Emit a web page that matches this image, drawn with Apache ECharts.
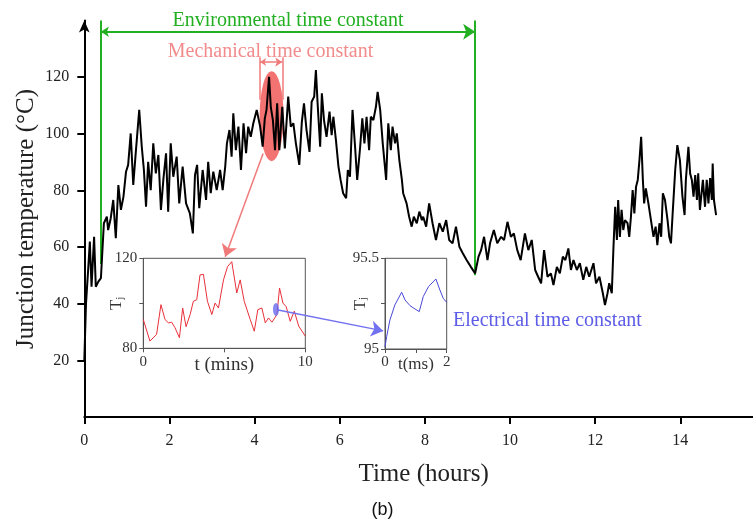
<!DOCTYPE html>
<html><head><meta charset="utf-8">
<script src="https://cdn.jsdelivr.net/npm/echarts@6/dist/echarts.min.js"></script>
<style>html,body{margin:0;padding:0;background:#fff}#c{width:753px;height:522px}</style>
</head><body><div id="c"></div>
<script>
// ---- main series: junction temperature vs time (hours) ----
const mainHours = [0,0.02,0.04,0.09,0.13,0.17,0.23,0.27,0.33,0.39,0.43,0.46,0.53,0.56,0.62,0.68,0.74,0.80,0.86,0.92,0.98,1.03,1.09,1.15,1.21,1.29,1.35,1.40,1.45,1.50,1.56,1.62,1.68,1.74,1.80,1.86,1.92,1.97,2.03,2.09,2.17,2.23,2.31,2.39,2.48,2.55,2.60,2.65,2.70,2.78,2.86,2.91,2.97,3.03,3.11,3.19,3.25,3.31,3.35,3.41,3.46,3.50,3.56,3.62,3.68,3.74,3.80,3.85,3.91,3.97,4.05,4.13,4.19,4.24,4.28,4.34,4.38,4.43,4.48,4.53,4.58,4.65,4.71,4.79,4.85,4.91,4.97,5.05,5.11,5.16,5.22,5.29,5.34,5.40,5.44,5.48,5.54,5.58,5.63,5.69,5.76,5.81,5.85,5.91,5.97,6.02,6.08,6.15,6.19,6.24,6.30,6.36,6.41,6.48,6.53,6.58,6.63,6.69,6.73,6.79,6.85,6.89,6.95,7.01,7.09,7.14,7.20,7.24,7.30,7.34,7.40,7.46,7.49,7.57,7.63,7.69,7.74,7.81,7.87,7.93,7.96,8.03,8.10,8.18,8.26,8.34,8.42,8.50,8.57,8.65,8.73,8.81,8.89,8.98,9.08,9.18,9.26,9.32,9.39,9.47,9.53,9.62,9.70,9.79,9.86,9.94,10.02,10.09,10.17,10.25,10.35,10.43,10.51,10.59,10.66,10.73,10.80,10.88,10.96,11.02,11.10,11.17,11.24,11.30,11.37,11.43,11.49,11.57,11.64,11.72,11.79,11.86,11.96,12.02,12.10,12.18,12.23,12.29,12.33,12.39,12.43,12.47,12.51,12.54,12.58,12.62,12.66,12.70,12.76,12.80,12.84,12.88,12.92,12.96,13.00,13.04,13.08,13.12,13.15,13.19,13.25,13.31,13.37,13.42,13.46,13.51,13.55,13.59,13.64,13.70,13.74,13.78,13.82,13.88,13.93,13.99,14.05,14.10,14.13,14.19,14.23,14.27,14.31,14.35,14.39,14.42,14.46,14.53,14.58,14.62,14.66,14.70,14.74,14.76,14.79,14.84];
const mainTemp = [20,20.1,40,51.9,61.9,46,63.6,46,47.8,49,60.1,68.4,70.7,66,70.1,76.6,63.1,81.9,73.1,77.8,86.6,89,100.1,81.9,93.6,108.4,95.4,87.2,74.2,90.1,80.1,96.6,86,92.5,73.1,84.3,93.1,72.5,96.6,84.8,91.9,75.4,88.4,75.4,71.9,64.8,85.4,89,73.7,87.2,76.6,90.1,79,86.6,80.1,87.2,80.1,88.4,96.6,101.3,91.9,107.2,94.2,102.5,87.2,103.7,93.1,102.5,98.9,103.7,108.4,102.5,95.4,105.4,108.4,120.1,109.5,104.8,94.2,110.7,94.2,109.5,94.8,113.1,102.5,103.7,96.6,89,104.2,110.7,101.3,93.6,111.3,113.1,122.5,110.7,95.4,114.3,104.8,98.9,107.8,99.5,106,97.8,88.4,83.7,79,77.2,87.2,84.8,108.4,95.4,83.7,95.4,105.4,96.6,106,94.2,106,104.8,109.5,114.8,108.4,96.6,83.7,103.7,94.2,102.5,96.6,100.1,90.7,83.7,79,75.4,70.7,67.2,70.7,68.4,72.5,69.5,70.7,67.2,75.4,68.4,62.5,68.4,65.4,69.5,62.5,61.3,67.2,60.1,57.8,55.4,53,50.7,56.6,58.9,63.6,55.4,61.3,66,61.3,63.6,62.5,68.9,63.6,64.8,58.9,55.4,64.8,58.9,62.5,51.9,49.5,47.2,58.9,49.5,50.7,46.6,53,50.7,56.6,55.4,59.5,51.9,55.4,51.9,54.3,48.4,53,49.5,54.3,47.2,49.5,43.7,39.5,43.7,47.2,43.7,60.1,74.2,62.5,76.6,63.6,73.1,66,69.5,68.4,63.6,70.7,80.1,71.9,81.3,83.7,90.7,98.9,83.7,75.4,80.7,75.4,69.5,63.6,67.2,60.7,68.4,63.6,79,76.6,69.5,63.6,61.3,71.9,87.2,96,90.7,77.8,71.3,83.7,95.4,86,83.7,77.8,85.4,76.6,86,73.1,83.7,74.2,83.7,75.4,84.3,76.6,89.5,76.6,71.3];

// ---- inset 1: mechanical (minutes) ----
const insetMinT = [0,0.41,0.82,1.09,1.34,1.55,1.75,1.96,2.23,2.43,2.64,2.89,3.09,3.30,3.50,3.71,3.96,4.23,4.43,4.64,4.95,5.20,5.46,5.77,5.98,6.23,6.60,6.85,7.07,7.32,7.53,7.73,7.94,8.25,8.41,8.62,8.82,9.07,9.32,9.59,10];
const insetMinTj = [92.8,83.2,86.2,99.4,92.8,91.3,91.6,89.1,84.7,97.9,89.6,95,100.9,101.6,112.6,112.9,100.9,95,100.1,97.9,110.4,116.3,118.5,104.6,110.4,100.9,92.8,87.6,97.2,97.9,91.3,93.5,91.6,95,106.8,100.1,98.5,92,96.5,89.9,85.4];

// ---- inset 2: electrical (milliseconds) ----
const insetMsT = [0,0.054,0.16,0.32,0.54,0.65,0.81,0.97,1.11,1.24,1.41,1.65,1.78,1.89,2];
const insetMsTj = [95.013,95.068,95.16,95.243,95.313,95.27,95.239,95.221,95.206,95.289,95.344,95.386,95.325,95.279,95.257];

// ---- ticks ----
const xTickValues = [0,2,4,6,8,10,12,14];
const yTickValues = [20,40,60,80,100,120];

// ---- annotations (data coordinates) ----
const envStart = 0.39, envEnd = 9.18, envArrowY = 136, envTop = 140;
const envLeftBottom = 54, envRightBottom = 50;
const mechStart = 4.13, mechEnd = 4.65, mechArrowY = 125.3, mechTop = 127, mechBottom = 112;
const mechBlob = [4.40, 106.2];
const mechPointerFrom = [4.2, 93], mechPointerTo = [3.31, 56.6];
const elecBlob = [8.19, 97.3];
const elecPointerFrom = [4.55, 37.8], elecPointerTo = [7.02, 30.4];

const zip = (a, b) => a.map((v, i) => [v, b[i]]);
const serif = 'Liberation Serif';
const GREEN = '#22b022', PINK = '#f07a7a', RED = '#e8303a', BLUE = '#4848d8';

const chart = echarts.init(document.getElementById('c'), null, {renderer: 'canvas'});
const insetAxisBase = {
  axisLine: {show: true, lineStyle: {color: '#555', width: 1}},
  axisTick: {show: true, length: 4, lineStyle: {color: '#555'}},
  splitLine: {show: false},
  nameMoveOverlap: false,
  axisLabel: {fontFamily: serif, fontSize: 15, color: '#333', margin: 6}
};
const tjName = {rich: {t: {fontFamily: serif, fontSize: 17, color: '#333'}, s: {fontFamily: serif, fontSize: 11, color: '#333', padding: [6, 0, 0, 0]}}};
chart.setOption({
  animation: false,
  backgroundColor: '#fff',
  grid: [
    {left: 84.3, top: 20.4, right: 0.3, bottom: 105},
    {left: 143.3, top: 258.3, width: 162, height: 90, show: true, backgroundColor: '#fff', borderColor: '#555', borderWidth: 1},
    {left: 385, top: 258.3, width: 61.7, height: 90.7, show: true, backgroundColor: '#fff', borderColor: '#555', borderWidth: 1}
  ],
  xAxis: [
    {gridIndex: 0, type: 'value', min: 0, max: 15.7, interval: 2,
     axisLine: {lineStyle: {color: '#000', width: 2}},
     axisTick: {length: 7, lineStyle: {color: '#000', width: 2}, customValues: xTickValues},
     axisLabel: {customValues: xTickValues, fontFamily: serif, fontSize: 16, color: '#222', margin: 16,
                 formatter: v => xTickValues.includes(v) ? String(v) : ''},
     splitLine: {show: false}},
    Object.assign({}, insetAxisBase, {gridIndex: 1, type: 'value', min: 0, max: 10, interval: 5,
     axisLabel: Object.assign({}, insetAxisBase.axisLabel, {formatter: v => (v === 5 ? '' : String(v))}),
     name: 't (mins)', nameLocation: 'middle', nameGap: 7,
     nameTextStyle: {fontFamily: serif, fontSize: 19, color: '#333', verticalAlign: 'top'}}),
    Object.assign({}, insetAxisBase, {gridIndex: 2, type: 'value', min: 0, max: 2, interval: 1,
     axisLabel: Object.assign({}, insetAxisBase.axisLabel, {formatter: v => (v === 1 ? '' : String(v))}),
     name: 't(ms)', nameLocation: 'middle', nameGap: 7,
     nameTextStyle: {fontFamily: serif, fontSize: 17, color: '#333', verticalAlign: 'top'}})
  ],
  yAxis: [
    {gridIndex: 0, type: 'value', min: 0, max: 140, interval: 20,
     axisLine: {lineStyle: {color: '#000', width: 2}, symbol: ['none', 'arrow'], symbolSize: [8, 12], symbolOffset: [0, 0]},
     axisTick: {length: 7, lineStyle: {color: '#000', width: 2}, customValues: yTickValues},
     axisLabel: {customValues: yTickValues, fontFamily: serif, fontSize: 16, color: '#222', margin: 15,
                 formatter: v => yTickValues.includes(v) ? String(v) : ''},
     splitLine: {show: false}},
    Object.assign({}, insetAxisBase, {gridIndex: 1, type: 'value', min: 80, max: 120, interval: 20,
     axisLabel: Object.assign({}, insetAxisBase.axisLabel, {formatter: v => (v === 100 ? '' : String(v))}),
     name: '{t|T}{s|j}', nameLocation: 'middle', nameGap: 18, nameRotate: 90, nameTextStyle: tjName}),
    Object.assign({}, insetAxisBase, {gridIndex: 2, type: 'value', min: 95, max: 95.5, interval: 0.25,
     axisLabel: Object.assign({}, insetAxisBase.axisLabel, {formatter: v => (v === 95.25 ? '' : String(v))}),
     name: '{t|T}{s|j}', nameLocation: 'middle', nameGap: 16, nameRotate: 90, nameTextStyle: tjName})
  ],
  series: [
    {type: 'scatter', xAxisIndex: 0, yAxisIndex: 0, data: [mechBlob], symbol: 'circle', symbolSize: [24, 90],
     itemStyle: {color: '#f26a6a', opacity: 0.95}, z: 1, silent: true},
    {type: 'line', xAxisIndex: 0, yAxisIndex: 0, data: zip(mainHours, mainTemp), showSymbol: false,
     lineStyle: {color: '#000', width: 2}, z: 3},
    {type: 'lines', coordinateSystem: 'cartesian2d', xAxisIndex: 0, yAxisIndex: 0, z: 2, silent: true,
     lineStyle: {color: GREEN, width: 2, opacity: 1},
     data: [
       {coords: [[envStart, envTop], [envStart, envLeftBottom]], symbol: ['none', 'none']},
       {coords: [[envEnd, envTop], [envEnd, envRightBottom]], symbol: ['none', 'none']},
       {coords: [[envStart, envArrowY], [envEnd, envArrowY]], symbol: ['arrow', 'arrow'], symbolSize: [8, 12]}
     ]},
    {type: 'lines', coordinateSystem: 'cartesian2d', xAxisIndex: 0, yAxisIndex: 0, z: 2, silent: true,
     lineStyle: {color: PINK, width: 1.5, opacity: 1},
     data: [
       {coords: [[mechStart, mechTop], [mechStart, mechBottom]], symbol: ['none', 'none']},
       {coords: [[mechEnd, mechTop], [mechEnd, mechBottom]], symbol: ['none', 'none']},
       {coords: [[mechStart, mechArrowY], [mechEnd, mechArrowY]], symbol: ['arrow', 'arrow'], symbolSize: [6, 7]},
       {coords: [mechPointerFrom, mechPointerTo], symbol: ['none', 'arrow'], symbolSize: [8, 12]}
     ]},
    {type: 'lines', coordinateSystem: 'cartesian2d', xAxisIndex: 0, yAxisIndex: 0, z: 5, silent: true,
     lineStyle: {color: '#7272f0', width: 1.5, opacity: 1},
     data: [{coords: [elecPointerFrom, elecPointerTo], symbol: ['none', 'arrow'], symbolSize: [8, 12]}]},
    {type: 'line', xAxisIndex: 1, yAxisIndex: 1, data: zip(insetMinT, insetMinTj), showSymbol: false,
     lineStyle: {color: RED, width: 1}, z: 3},
    {type: 'scatter', xAxisIndex: 1, yAxisIndex: 1, data: [elecBlob], symbol: 'circle', symbolSize: [6, 13],
     itemStyle: {color: '#6a6af0'}, z: 4, silent: true},
    {type: 'line', xAxisIndex: 2, yAxisIndex: 2, data: zip(insetMsT, insetMsTj), showSymbol: false,
     lineStyle: {color: BLUE, width: 1}, z: 3}
  ],
  graphic: [
    {type: 'text', style: {x: 288, y: 21, text: 'Environmental time constant', fill: GREEN, font: '20px "Liberation Serif"', align: 'center', verticalAlign: 'middle'}},
    {type: 'text', style: {x: 270.5, y: 51.7, text: 'Mechanical time constant', fill: '#f28c8c', font: '20px "Liberation Serif"', align: 'center', verticalAlign: 'middle'}},
    {type: 'text', style: {x: 453, y: 321, text: 'Electrical time constant', fill: '#5c5ce6', font: '20px "Liberation Serif"', align: 'left', verticalAlign: 'middle'}},
    {type: 'text', style: {x: 423.7, y: 474, text: 'Time (hours)', fill: '#222', font: '25px "Liberation Serif"', align: 'center', verticalAlign: 'middle'}},
    {type: 'text', rotation: Math.PI / 2, x: 26, y: 219, style: {x: 0, y: 0, text: 'Junction temperature (°C)', fill: '#222', font: '25px "Liberation Serif"', align: 'center', verticalAlign: 'middle'}},
    {type: 'text', style: {x: 382.5, y: 510, text: '(b)', fill: '#111', font: '18px "Liberation Sans"', align: 'center', verticalAlign: 'middle'}}
  ]
});
</script></body></html>
